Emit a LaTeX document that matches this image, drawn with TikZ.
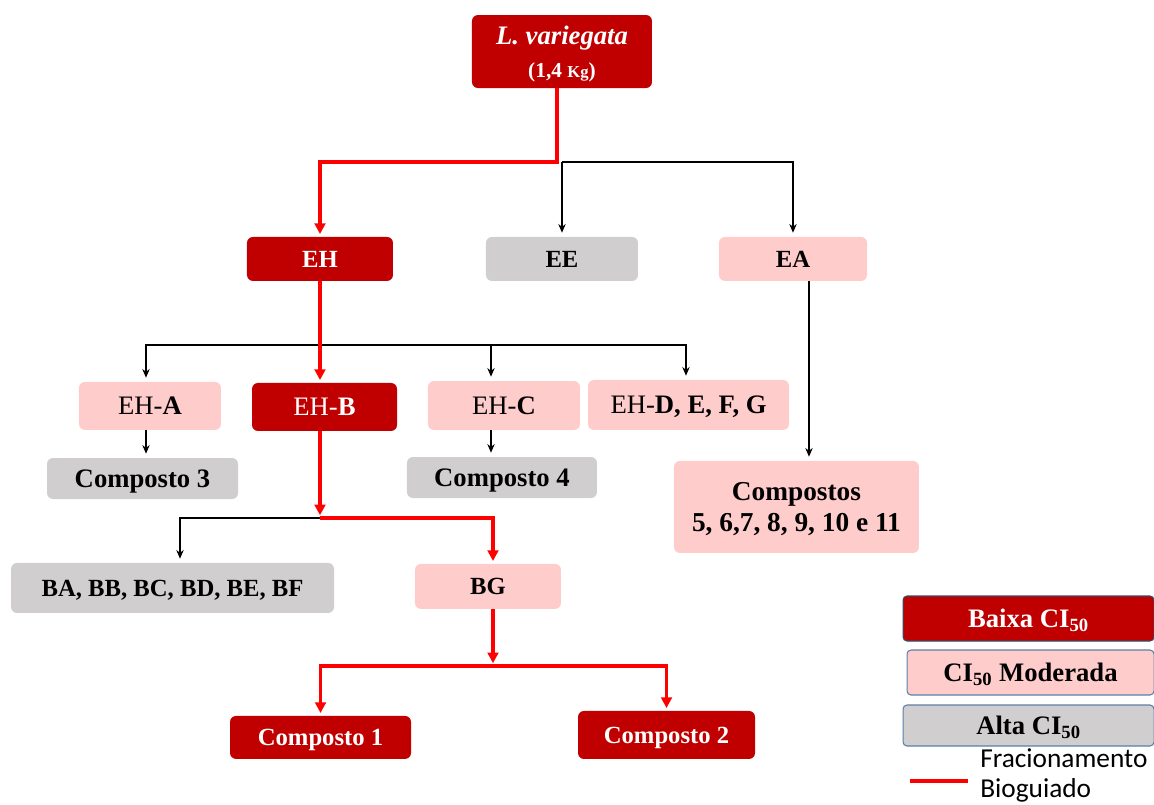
\documentclass[tikz,border=0pt]{standalone}
\usepackage{fontspec}
\setmainfont{Liberation Serif}
\newfontfamily\legendfont{Carlito}
\usetikzlibrary{%
	positioning,
	arrows.meta
}
\definecolor{lowred}{HTML}{C00000}
\definecolor{midpink}{HTML}{FFCCCC}
\definecolor{highgray}{HTML}{D0CECE}
\definecolor{guidered}{HTML}{FF0000}
\definecolor{legendedge}{HTML}{5B7FA8}

\begin{document}
\begin{tikzpicture}[
		fs/.style={font=\fontsize{#1}{#1}\selectfont\bfseries},
		SLow/.style={fill=lowred,text=white,rounded corners=4.5pt,fs=18.5,align=center,inner sep=2pt,text depth=0pt},
		SMid/.style={fill=midpink,text=black,rounded corners=4.5pt,fs=18.5,align=center,inner sep=2pt,text depth=0pt},
		SHigh/.style={fill=highgray,text=black,rounded corners=4.5pt,fs=18.5,align=center,inner sep=2pt,text depth=0pt},
		dim/.style 2 args={minimum width=#1,minimum height=#2},
		legend/.style={draw=legendedge,line width=0.8pt,rounded corners=3pt},
		guided/.style={draw=guidered,line width=2.8pt,-{Triangle[length=8pt,width=8pt]},shorten >=2pt},
		plain/.style={draw=black,line width=1.2pt,-{Stealth[length=6.5pt,width=5.5pt]},shorten >=3pt}
	]
	\useasboundingbox (-421.5pt,38.625pt) rectangle (444pt,-564.375pt);

		\node(root) [SLow, dim={135pt}{54.75pt}, fs=20] {\textit{L. variegata}\\[5pt]{\fontsize{16}{18}\selectfont (1,4 {\fontsize{12.5}{14}\selectfont Kg})}};

		\node(EH) [SLow, dim={109.5pt}{33pt}, below left=155.6pt and 181.5pt of root.center, anchor=center] {EH};
		\node(EE) [SHigh, dim={114pt}{33pt}, below=155.6pt of root.center, anchor=center] {EE};
		\node(EA) [SMid, dim={111pt}{33pt}, below right=155.6pt and 173.25pt of root.center, anchor=center] {EA};
		\coordinate [below=82.9pt of root.center] (j1);
		\draw [guided] ([xshift=-4pt]root.south) -- ([xshift=-4pt]j1) -| (EH.north);
		\draw [plain] (j1) -- (EE.north);
		\draw [plain] (j1) -| (EA.north);

		\node(EHA) [SMid, fs=20, dim={106.5pt}{36pt}, below left=110.25pt and 127.5pt of EH.center, anchor=center] {{\mdseries EH-}A};
		\node(EHB) [SLow, fs=20, dim={108.75pt}{36pt}, below right=111pt and 3.4pt of EH.center, anchor=center] {{\mdseries EH-}B};
		\node(EHC) [SMid, fs=20, dim={114pt}{36.75pt}, below right=109.9pt and 138pt of EH.center, anchor=center] {{\mdseries EH-}C};
		\node(EHD) [SMid, fs=20, dim={150.75pt}{37.5pt}, below right=109.5pt and 276.4pt of EH.center, anchor=center] {{\mdseries EH-}D, E, F, G};
		\coordinate [below=64.5pt of EH.center] (j2);
		\draw [plain] (j2) -| ([xshift=-3pt]EHA.north);
		\draw [plain] (j2) -| ([xshift=-9.75pt]EHC.north);
		\draw [plain] (j2) -| ([xshift=-1.9pt]EHD.north);
		\draw [guided] (EH.south) -- (EH.south |- EHB.north);

		\node(comp3) [SHigh, fs=20, dim={143.25pt}{30.75pt}, below left=54.4pt and 5.6pt of EHA.center, anchor=center] {Composto 3};
		\node(comp4) [SHigh, fs=20, dim={142.5pt}{30.75pt}, below left=54pt and 1.5pt of EHC.center, anchor=center] {Composto 4};
		\node(comp5) [SMid, fs=20.5, dim={183.75pt}{69pt}, below right=186pt and 2.6pt of EA.center, anchor=center] {Compostos\\[3pt]5, 6,7, 8, 9, 10 e 11};
		\draw [plain] ([xshift=-3pt]EHA.south) -- ([xshift=-3pt]EHA.south |- comp3.north);
		\draw [plain] ([xshift=-9.75pt]EHC.south) -- ([xshift=-9.75pt]EHC.south |- comp4.north);
		\draw [plain] ([xshift=12pt]EA.south) -- ([xshift=12pt]EA.south |- comp5.north);

		\node(BA) [SHigh, dim={242.25pt}{37.5pt}, below left=135.75pt and 114pt of EHB.center, anchor=center] {BA, BB, BC, BD, BE, BF};
		\node(BG) [SMid, dim={109.5pt}{33.75pt}, below right=134.6pt and 122.6pt of EHB.center, anchor=center] {BG};
		\coordinate [below left=83.25pt and 3.4pt of EHB.center] (j3);
		\draw [guided] (EH.south |- EHB.south) -- (j3);
		\draw [plain] (j3) -| ([xshift=5.6pt]BA.north);
		\draw [guided] (j3) -| ([xshift=3.75pt]BG.north);

		\node(comp1) [SLow, dim={135.75pt}{32.25pt}, below left=113.25pt and 125.6pt of BG.center, anchor=center] {Composto 1};
		\node(comp2) [SLow, dim={132.75pt}{36pt}, below right=111.4pt and 133.9pt of BG.center, anchor=center] {Composto 2};
		\coordinate [below right=59.6pt and 3.75pt of BG.center] (j4);
		\draw [guided] ([xshift=3.75pt]BG.south) -- (j4);
		\draw [guided] (j4) -| (comp1.north);
		\draw [guided] (j4) -| (comp2.north);

		%legend
		\node(low) [SLow, fs=20, legend, draw=legendedge!60!black, dim={188.25pt}{33.75pt}, below right=425.25pt and 349.9pt of root.center, anchor=center] {Baixa CI\textsubscript{50}};
		\node(mid) [SMid, fs=20, legend, dim={185.25pt}{33.75pt}, below right=40.5pt and 1.5pt of low.center, anchor=center] {CI\textsubscript{50} Moderada};
		\node(high) [SHigh, fs=20, legend, dim={188.25pt}{30.75pt}, below=80.25pt of low.center, anchor=center] {Alta CI\textsubscript{50}};
		\coordinate [below left=41.6pt and 88.9pt of high.center] (lg1);
		\coordinate [below left=41.6pt and 45.4pt of high.center] (lg2);
		\draw [draw=guidered, line width=2.8pt] (lg1) -- (lg2);
		\node(lgtext) [below left=37.5pt and 36.4pt of high.center, anchor=west, align=left, inner sep=0pt, font=\legendfont\fontsize{20.5}{23}\selectfont] {Fracionamento\\Bioguiado};

\end{tikzpicture}
\end{document}
